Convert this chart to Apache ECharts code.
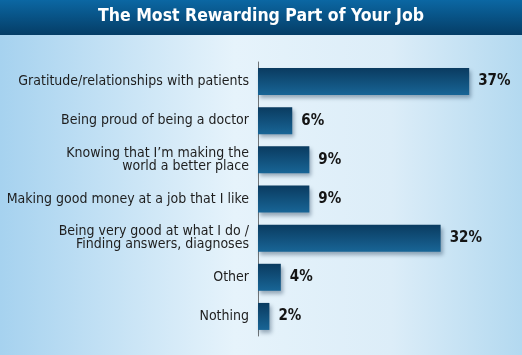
<!DOCTYPE html>
<html>
<head>
<meta charset="utf-8">
<script src="https://cdn.jsdelivr.net/npm/echarts@6/dist/echarts.min.js"></script>
<style>
  html, body { margin: 0; padding: 0; }
  #chart { width: 522px; height: 355px; }
</style>
</head>
<body>
<div id="chart"></div>
<script>
// 标题与数据
var chartTitle = 'The Most Rewarding Part of Your Job';
var categories = [
  'Gratitude/relationships with patients',
  'Being proud of being a doctor',
  'Knowing that I\u2019m making the\nworld a better place',
  'Making good money at a job that I like',
  'Being very good at what I do /\nFinding answers, diagnoses',
  'Other',
  'Nothing'
];
var percents = [37, 6, 9, 9, 32, 4, 2];

var condensed = '"DejaVu Sans Condensed", "Liberation Sans Narrow", sans-serif';

var chart = echarts.init(document.getElementById('chart'));
chart.setOption({
  animation: false,
  // 背景渐变
  backgroundColor: new echarts.graphic.LinearGradient(0, 0, 1, 0, [
    { offset: 0, color: '#a6d2ef' },
    { offset: 0.45, color: '#e6f3fb' },
    { offset: 0.75, color: '#dcedf8' },
    { offset: 1, color: '#b3d9f0' }
  ]),
  graphic: [
    {
      type: 'rect',
      left: 0,
      top: 0,
      shape: { width: 522, height: 35 },
      style: {
        fill: new echarts.graphic.LinearGradient(0, 0, 0, 1, [
          { offset: 0, color: '#0b67a3' },
          { offset: 1, color: '#053d66' }
        ])
      },
      z: 0
    },
    {
      type: 'text',
      left: 'center',
      top: 7,
      style: {
        text: chartTitle,
        fill: '#ffffff',
        font: 'bold 17.5px ' + condensed
      },
      z: 1
    }
  ],
  grid: {
    left: 258,
    right: 30,
    top: 62,
    bottom: 19
  },
  xAxis: {
    type: 'value',
    min: 0,
    max: 41,
    show: false
  },
  yAxis: {
    type: 'category',
    inverse: true,
    data: categories,
    axisLine: { show: true, lineStyle: { color: '#6f7478', width: 1 } },
    axisTick: { show: false },
    axisLabel: {
      margin: 9,
      color: '#1e1e1e',
      fontFamily: condensed,
      fontSize: 14,
      lineHeight: 13
    }
  },
  series: [
    {
      type: 'bar',
      data: percents,
      barWidth: 27,
      itemStyle: {
        color: new echarts.graphic.LinearGradient(0, 0, 0, 1, [
          { offset: 0, color: '#0a3b60' },
          { offset: 1, color: '#186596' }
        ]),
        shadowColor: 'rgba(0, 30, 60, 0.35)',
        shadowBlur: 4,
        shadowOffsetX: 2,
        shadowOffsetY: 3
      },
      label: {
        show: true,
        position: 'right',
        distance: 9,
        formatter: '{c}%',
        color: '#141414',
        fontFamily: condensed,
        fontWeight: 'bold',
        fontSize: 15
      }
    }
  ]
});
</script>
</body>
</html>
